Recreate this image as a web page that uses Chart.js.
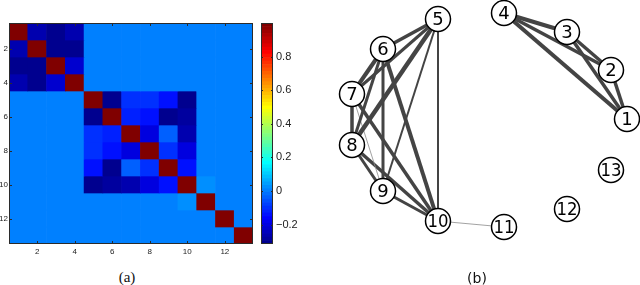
<!DOCTYPE html>
<html>
<head>
<meta charset="utf-8">
<script src="https://cdn.jsdelivr.net/npm/chart.js@4.4.1/dist/chart.umd.min.js"></script>
<style>
  body { margin: 0; background: #fff; width: 640px; height: 285px; position: relative; overflow: hidden; }
  canvas { position: absolute; }
  .cap { position: absolute; width: 60px; text-align: center; color: #111; line-height: 15px; }
</style>
</head>
<body>
<canvas id="heat" width="260" height="260" style="left:0;top:0"></canvas>
<canvas id="cbar" width="60" height="260" style="left:255px;top:0"></canvas>
<canvas id="graph" width="320" height="260" style="left:320px;top:0"></canvas>
<div class="cap" style="left:97px;top:269px;font:15px 'Liberation Serif'">(a)</div>
<div class="cap" style="left:447px;top:270px;font:14px 'DejaVu Sans'">(b)</div>
<script>
// ---- panel (a): correlation matrix ----
const matrixLabels = ["1","2","3","4","5","6","7","8","9","10","11","12","13"];
const xTicks = [2, 4, 6, 8, 10, 12];
const yTicks = [2, 4, 6, 8, 10, 12];
const corrRows = [
  [1, -0.26, -0.30, -0.27, 0, 0, 0, 0, 0, 0, 0, 0, 0],
  [-0.26, 1, -0.30, -0.31, 0, 0, 0, 0, 0, 0, 0, 0, 0],
  [-0.30, -0.30, 1, -0.23, 0, 0, 0, 0, 0, 0, 0, 0, 0],
  [-0.27, -0.31, -0.23, 1, 0, 0, 0, 0, 0, 0, 0, 0, 0],
  [0, 0, 0, 0, 1, -0.31, -0.10, -0.10, -0.14, -0.31, 0, 0, 0],
  [0, 0, 0, 0, -0.31, 1, -0.12, -0.14, -0.30, -0.28, 0, 0, 0],
  [0, 0, 0, 0, -0.10, -0.12, 1, -0.20, -0.03, -0.26, 0, 0, 0],
  [0, 0, 0, 0, -0.10, -0.14, -0.20, 1, -0.10, -0.20, 0, 0, 0],
  [0, 0, 0, 0, -0.14, -0.30, -0.03, -0.10, 1, -0.14, 0, 0, 0],
  [0, 0, 0, 0, -0.31, -0.28, -0.26, -0.20, -0.14, 1, 0.03, 0, 0],
  [0, 0, 0, 0, 0, 0, 0, 0, 0, 0.03, 1, 0, 0],
  [0, 0, 0, 0, 0, 0, 0, 0, 0, 0, 0, 1, 0],
  [0, 0, 0, 0, 0, 0, 0, 0, 0, 0, 0, 0, 1]
];
const colorMin = -0.316;
const colorMax = 1.0;
const colorbarTicks = [-0.2, 0, 0.2, 0.4, 0.6, 0.8];

// ---- panel (b): graph ----
const nodeNames = ["1","2","3","4","5","6","7","8","9","10","11","12","13"];
const nodeX = [137, 121, 77, 14, -52, -107, -138, -138, -107, -52, 14, 77, 121];
const nodeY = [1, 50, 88, 107, 101, 71, 26, -25, -71, -101, -107, -89, -50];
const edgeFrom = [1, 1, 1, 2, 2, 3, 5, 5, 5, 5, 5, 6, 6, 6, 6, 7, 7, 7, 8, 8, 9, 10];
const edgeTo = [2, 3, 4, 3, 4, 4, 6, 7, 8, 9, 10, 7, 8, 9, 10, 8, 9, 10, 9, 10, 10, 11];
const edgeWeight = [3.5, 3.5, 4, 3.5, 3.5, 4, 3.5, 3, 4.5, 2, 2, 4, 3, 3, 4, 3.5, 0.8, 3.5, 3, 3.5, 3, 0.8];

// MATLAB style jet(64)
const jet = Array.from({ length: 64 }, () => [0, 0, 0]);
const u = [];
for (let k = 1; k <= 16; k++) u.push(k / 16);
for (let k = 0; k < 15; k++) u.push(1);
for (let k = 16; k >= 1; k--) u.push(k / 16);
u.forEach((val, k) => {
  const g = 9 + k, r = g + 16, b = g - 16;
  if (g <= 64) jet[g - 1][1] = val;
  if (r <= 64) jet[r - 1][0] = val;
  if (b >= 1) jet[b - 1][2] = val;
});
const jetCss = i => `rgb(${jet[i].map(c => Math.round(c * 255)).join(",")})`;
function colorFor(v) {
  const i = Math.floor((v - colorMin) / (colorMax - colorMin) * 64);
  return jetCss(Math.min(63, Math.max(0, i)));
}

// box + inward tick marks, matlab look
const frameTicks = {
  id: "frameTicks",
  afterDraw(chart, args, opts) {
    const { ctx, chartArea: a } = chart;
    const len = opts.len || 3;
    ctx.save();
    ctx.strokeStyle = "#2b2b2b";
    ctx.lineWidth = 1;
    ctx.strokeRect(a.left + 0.5, a.top + 0.5, a.width - 1, a.height - 1);
    ctx.beginPath();
    Object.values(chart.scales).forEach(s => {
      if (!s.options.display) return;
      s.ticks.forEach((t, i) => {
        const p = Math.round(s.getPixelForTick(i)) + 0.5;
        if (s.isHorizontal()) {
          ctx.moveTo(p, a.top); ctx.lineTo(p, a.top + len);
          ctx.moveTo(p, a.bottom); ctx.lineTo(p, a.bottom - len);
        } else {
          ctx.moveTo(a.left, p); ctx.lineTo(a.left + len, p);
          ctx.moveTo(a.right, p); ctx.lineTo(a.right - len, p);
        }
      });
    });
    ctx.stroke();
    ctx.restore();
  }
};

const noGrid = { display: false, drawTicks: false, tickLength: 0, offset: false };

new Chart(document.getElementById("heat"), {
  type: "bar",
  data: {
    labels: matrixLabels,
    datasets: corrRows.map((row, r) => ({
      data: row.map(() => [r + 0.5, r + 1.5]),
      backgroundColor: row.map(colorFor),
      borderWidth: 0,
      grouped: false,
      barPercentage: 1,
      categoryPercentage: 1
    }))
  },
  options: {
    responsive: false,
    animation: false,
    layout: { autoPadding: false, padding: { top: 23, right: 7 } },
    plugins: { legend: { display: false }, tooltip: { enabled: false }, frameTicks: { len: 3 } },
    scales: {
      x: {
        grid: noGrid,
        border: { display: false },
        afterBuildTicks: s => { s.ticks = xTicks.map(v => ({ value: v - 1 })); },
        afterFit: s => { s.height = 16; },
        ticks: { padding: 3, color: "#222", font: { family: "Liberation Sans", size: 8 }, maxRotation: 0 }
      },
      y: {
        reverse: true,
        min: 0.5,
        max: 13.5,
        grid: noGrid,
        border: { display: false },
        afterBuildTicks: s => { s.ticks = yTicks.map(v => ({ value: v })); },
        afterFit: s => { s.width = 9; },
        ticks: { padding: 1, color: "#222", font: { family: "Liberation Sans", size: 8 } }
      }
    }
  },
  plugins: [frameTicks]
});

// colorbar
new Chart(document.getElementById("cbar"), {
  type: "bar",
  data: {
    labels: [""],
    datasets: jet.map((c, i) => ({
      data: [[colorMin + i * (colorMax - colorMin) / 64, colorMin + (i + 1) * (colorMax - colorMin) / 64]],
      backgroundColor: jetCss(i),
      borderWidth: 0,
      grouped: false,
      barPercentage: 1,
      categoryPercentage: 1
    }))
  },
  options: {
    responsive: false,
    animation: false,
    layout: { autoPadding: false, padding: { top: 23, left: 6, bottom: 16 } },
    plugins: { legend: { display: false }, tooltip: { enabled: false }, frameTicks: { len: 2 } },
    scales: {
      x: { display: false },
      y: {
        position: "right",
        min: colorMin,
        max: colorMax,
        grid: noGrid,
        border: { display: false },
        afterBuildTicks: s => { s.ticks = colorbarTicks.map(v => ({ value: v })); },
        afterFit: s => { s.width = 42; },
        ticks: {
          padding: 3,
          color: "#222",
          font: { family: "Liberation Sans", size: 11 },
          callback: v => v === 0 ? "0" : (v < 0 ? "\u2212" : "") + Math.abs(v).toFixed(1)
        }
      }
    }
  },
  plugins: [frameTicks]
});

// node labels on top of the circles
const nodeLabels = {
  id: "nodeLabels",
  afterDatasetsDraw(chart) {
    const { ctx, scales: { x, y } } = chart;
    ctx.save();
    ctx.font = "18px 'DejaVu Sans'";
    ctx.fillStyle = "#000";
    ctx.textAlign = "center";
    ctx.textBaseline = "middle";
    nodeNames.forEach((n, i) => {
      ctx.fillText(n, x.getPixelForValue(nodeX[i]), y.getPixelForValue(nodeY[i]) + 1, 21);
    });
    ctx.restore();
  }
};

const pt = i => ({ x: nodeX[i - 1], y: nodeY[i - 1] });
const edgeSets = edgeFrom.map((a, k) => ({
  data: [pt(a), pt(edgeTo[k])],
  showLine: true,
  borderWidth: edgeWeight[k],
  borderColor: edgeWeight[k] < 1 ? "#8a8a8a" : "#444",
  pointRadius: 0,
  order: 1
}));

new Chart(document.getElementById("graph"), {
  type: "scatter",
  data: {
    datasets: [
      ...edgeSets,
      {
        data: nodeX.map((x, i) => ({ x, y: nodeY[i] })),
        pointRadius: 12.5,
        pointBorderWidth: 1.5,
        pointBackgroundColor: "#fff",
        pointBorderColor: "#000",
        order: 0
      }
    ]
  },
  options: {
    responsive: false,
    animation: false,
    clip: false,
    layout: { autoPadding: false, padding: 0 },
    plugins: { legend: { display: false }, tooltip: { enabled: false } },
    scales: {
      x: { display: false, min: -170, max: 150 },
      y: { display: false, min: -140, max: 120 }
    }
  },
  plugins: [nodeLabels]
});
</script>
</body>
</html>
